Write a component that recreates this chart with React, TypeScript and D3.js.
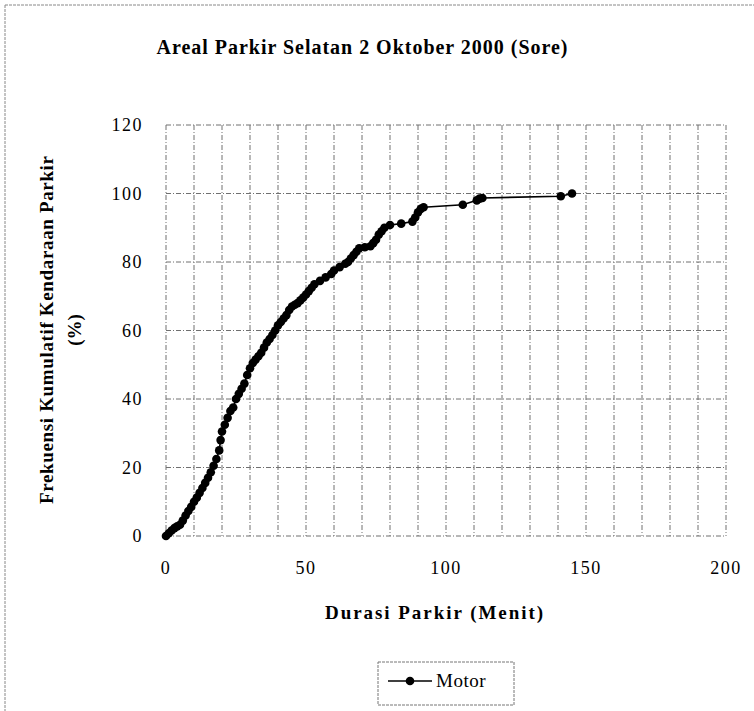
import React from 'react';
import * as d3 from 'd3';

const chartTitle = 'Areal Parkir Selatan 2 Oktober 2000 (Sore)';
const xTitle = 'Durasi Parkir (Menit)';
const yTitleLine1 = 'Frekuensi Kumulatif Kendaraan Parkir';
const yTitleLine2 = '(%)';
const seriesName = 'Motor';

const xTickValues = [0, 50, 100, 150, 200];
const yTickValues = [0, 20, 40, 60, 80, 100, 120];

const minutes = [
  0, 1, 2, 3, 4, 5, 6, 7, 8, 9, 10, 11, 12, 13, 14, 15, 16, 17, 18, 19, 19.5, 20,
  21, 22, 23, 24, 25, 26, 27, 28, 29, 30, 31, 32, 33, 34, 35, 36, 37, 38, 39, 40,
  41, 42, 43, 44, 45, 46, 47, 48, 49, 50, 51, 52, 53, 55, 57, 59, 60, 62, 64, 65,
  66, 67, 68, 69, 71, 73, 74, 75, 76, 77, 78, 80, 84, 88, 89, 90, 91, 92, 106, 111,
  112, 113, 141, 145,
];
const percents = [
  0, 0.8, 1.6, 2.3, 2.8, 3.3, 4.5, 6, 7.3, 8.5, 10, 11.2, 12.6, 14, 15.5, 17, 18.6, 20.5, 22.5, 25, 28, 30.5,
  32.5, 34.5, 36.5, 37.5, 40, 41.5, 43, 44.5, 47, 49, 50.5, 51.5, 52.5, 53.5, 55, 56.5, 57.5, 58.7, 60, 61.5,
  62.5, 63.5, 64.5, 66, 67, 67.5, 68, 68.8, 69.6, 70.5, 71.5, 72.5, 73.5, 74.5, 75.5, 76.5, 77.5, 78.5, 79.5, 80,
  81, 82, 83, 84, 84.3, 84.6, 85.5, 86.5, 88, 89, 90, 90.8, 91.2, 91.8, 93, 94.5, 95.5, 96, 96.7, 98,
  98.5, 98.7, 99.2, 100,
];

const FONT = "'Liberation Serif', 'Times New Roman', 'DejaVu Serif', serif";
const tStyle = { fontFamily: FONT } as React.CSSProperties;

export default function App() {
  const W = 754;
  const H = 711;
  const x = d3.scaleLinear().domain([0, 200]).range([166, 726]);
  const y = d3.scaleLinear().domain([0, 120]).range([536, 125]);
  const data = minutes.map((m, i) => [m, percents[i]] as [number, number]);
  const line = d3
    .line<[number, number]>()
    .x((d) => x(d[0]))
    .y((d) => y(d[1]));

  const vGrid = x.ticks(20);
  const hGrid = y.ticks(6);
  const gridDash = '5,2,1,2';
  const gridColor = '#707070';

  return (
    <svg
      width={W}
      height={H}
      style={{ position: 'absolute', left: 0, top: 0, background: '#fff', fontFamily: FONT }}
    >
      <rect x={0} y={0} width={W} height={H} fill="#fff" />
      {/* outer chart border */}
      <line x1={5} y1={5} x2={W} y2={5} stroke="#888" strokeWidth={1} strokeDasharray="3,1" />
      <line x1={5} y1={5} x2={5} y2={H} stroke="#888" strokeWidth={1} strokeDasharray="3,1" />

      {/* title */}
      <text
        x={362}
        y={54}
        textAnchor="middle"
        fontSize={20}
        fontWeight="bold"
        textLength={411}
        lengthAdjust="spacing"
        style={tStyle}
      >
        {chartTitle}
      </text>

      {/* grid */}
      {vGrid.map((t) => (
        <line
          key={'v' + t}
          x1={x(t)}
          x2={x(t)}
          y1={y(120)}
          y2={y(0)}
          stroke={gridColor}
          strokeWidth={1}
          strokeDasharray={gridDash}
        />
      ))}
      {hGrid.map((t) => (
        <line
          key={'h' + t}
          x1={x(0)}
          x2={x(200)}
          y1={y(t)}
          y2={y(t)}
          stroke={gridColor}
          strokeWidth={1}
          strokeDasharray={gridDash}
        />
      ))}

      {/* y tick labels */}
      {yTickValues.map((t) => (
        <text
          key={'yl' + t}
          x={143}
          y={y(t) + 6}
          textAnchor="end"
          fontSize={18}
          letterSpacing={1.5}
          style={tStyle}
        >
          {t}
        </text>
      ))}
      {/* x tick labels */}
      {xTickValues.map((t) => (
        <text
          key={'xl' + t}
          x={x(t)}
          y={574}
          textAnchor="middle"
          fontSize={18}
          letterSpacing={1.5}
          style={tStyle}
        >
          {t}
        </text>
      ))}

      {/* axis titles */}
      <text
        x={434}
        y={619}
        textAnchor="middle"
        fontSize={19}
        fontWeight="bold"
        textLength={218}
        lengthAdjust="spacing"
        style={tStyle}
      >
        {xTitle}
      </text>
      <text
        transform={`translate(53,330) rotate(-90)`}
        textAnchor="middle"
        fontSize={19}
        fontWeight="bold"
        textLength={348}
        lengthAdjust="spacing"
        style={tStyle}
      >
        {yTitleLine1}
      </text>
      <text
        transform={`translate(81,330) rotate(-90)`}
        textAnchor="middle"
        fontSize={19}
        fontWeight="bold"
        style={tStyle}
      >
        {yTitleLine2}
      </text>

      {/* series */}
      <path d={line(data) || ''} fill="none" stroke="#000" strokeWidth={1.6} />
      {data.map((d, i) => (
        <circle key={'p' + i} cx={x(d[0])} cy={y(d[1])} r={4.3} fill="#000" />
      ))}

      {/* legend */}
      <rect
        x={378}
        y={662}
        width={136}
        height={43}
        fill="#fff"
        stroke="#777"
        strokeWidth={1}
        strokeDasharray="3,1"
      />
      <line x1={388} x2={432} y1={681} y2={681} stroke="#000" strokeWidth={1.6} />
      <circle cx={410} cy={681} r={4.3} fill="#000" />
      <text x={436} y={687} fontSize={19} letterSpacing={0.5} style={tStyle}>
        {seriesName}
      </text>
    </svg>
  );
}
